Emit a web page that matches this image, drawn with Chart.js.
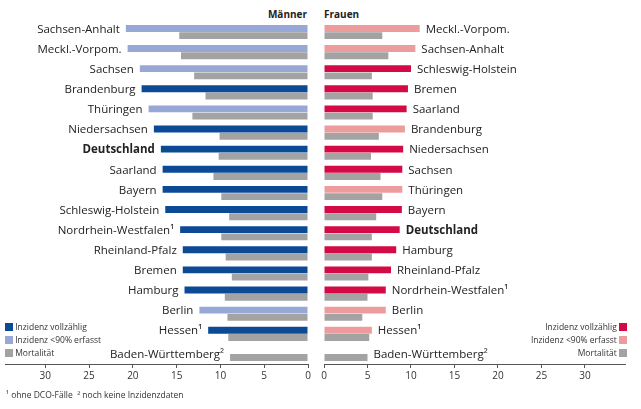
<!DOCTYPE html>
<html><head><meta charset="utf-8">
<script src="https://cdn.jsdelivr.net/npm/chart.js@4"></script>
<style>
body{margin:0;width:641px;height:409px;background:#fff;font-family:"Open Sans",sans-serif;position:relative;overflow:hidden}
.c{position:absolute}
.t{position:absolute;font-size:10px;font-weight:bold;color:#222;top:7px}
.leg{position:absolute;font-size:8.5px;color:#333;line-height:13px}
.leg span.sq{display:inline-block;width:8px;height:8px;vertical-align:-1px}
.fn{position:absolute;left:6px;top:389px;font-size:8.5px;color:#333}
</style></head><body>
<div class="t" style="right:334px">Männer</div>
<div class="t" style="left:324px">Frauen</div>
<div class="c" style="left:0;top:22px;width:314px;height:362px"><canvas id="m"></canvas></div>
<div class="c" style="left:317px;top:22px;width:314px;height:362px"><canvas id="f"></canvas></div>
<div class="leg" style="left:5px;top:320px">
<div><span class="sq" style="background:#0d4a96"></span> Inzidenz vollzählig</div>
<div><span class="sq" style="background:#98a8d6"></span> Inzidenz &lt;90% erfasst</div>
<div><span class="sq" style="background:#a3a3a3"></span> Mortalität</div></div>
<div class="leg" style="right:14px;top:320px;text-align:right">
<div>Inzidenz vollzählig <span class="sq" style="background:#d30a45"></span></div>
<div>Inzidenz &lt;90% erfasst <span class="sq" style="background:#ec9c9c"></span></div>
<div>Mortalität <span class="sq" style="background:#a3a3a3"></span></div></div>
<div class="fn">¹ ohne DCO-Fälle &nbsp;² noch keine Inzidenzdaten</div>
<script>
const menLabels=["Sachsen-Anhalt","Meckl.-Vorpom.","Sachsen","Brandenburg","Thüringen","Niedersachsen","Deutschland","Saarland","Bayern","Schleswig-Holstein","Nordrhein-Westfalen¹","Rheinland-Pfalz","Bremen","Hamburg","Berlin","Hessen¹","Baden-Württemberg²"];
const menIncidence=[20.8,20.6,19.2,19.0,18.2,17.6,16.8,16.6,16.6,16.3,14.6,14.3,14.3,14.1,12.4,11.4,null];
const menComplete=[false,false,false,true,false,true,true,true,true,true,true,true,true,true,false,true,true];
const menMortality=[14.7,14.5,13.0,11.7,13.2,10.1,10.2,10.8,9.9,9.0,9.9,9.4,8.7,9.5,9.2,9.1,8.9];
const womenLabels=["Meckl.-Vorpom.","Sachsen-Anhalt","Schleswig-Holstein","Bremen","Saarland","Brandenburg","Niedersachsen","Sachsen","Thüringen","Bayern","Deutschland","Hamburg","Rheinland-Pfalz","Nordrhein-Westfalen¹","Berlin","Hessen¹","Baden-Württemberg²"];
const womenIncidence=[11.0,10.5,10.0,9.65,9.5,9.3,9.1,9.0,9.0,8.95,8.7,8.3,7.7,7.1,7.1,5.5,null];
const womenComplete=[false,false,true,true,true,false,true,true,false,true,true,true,true,true,false,false,true];
const womenMortality=[6.7,7.4,5.5,5.6,5.6,6.3,5.4,6.5,6.7,6.0,5.5,5.5,5.1,5.0,4.4,5.2,5.0];
const tickValues=[0,5,10,15,20,25,30];

function make(id,labels,inc,comp,mort,dark,light,left){
  const labelPlugin={id:'lbl',afterDatasetsDraw(ch){
    const c=ch.ctx,m0=ch.getDatasetMeta(0).data,m1=ch.getDatasetMeta(1).data;
    labels.forEach((l,i)=>{
      const a=m0[i],b=m1[i];
      const hasInc=inc[i]!=null;
      let x=left?(hasInc?Math.min(a.x,b.x):b.x):(hasInc?Math.max(a.x,b.x):b.x);
      let y=hasInc?a.y+1:b.y-3;
      c.save();
      c.font=(l==="Deutschland"?"bold ":"")+"11.5px 'Open Sans'";
      c.fillStyle="#222";c.textBaseline="middle";
      c.textAlign=left?"right":"left";
      c.fillText(l,left?x-6:x+6,y);
      c.restore();
    });
  }};
  new Chart(document.getElementById(id),{type:'bar',
    data:{labels,datasets:[
      {data:inc,backgroundColor:comp.map(v=>v?dark:light)},
      {data:mort,backgroundColor:'#a3a3a3'}]},
    options:{indexAxis:'y',responsive:true,maintainAspectRatio:false,animation:false,
      layout:{padding:left?{left:5,right:6,top:0}:{left:7,right:6,top:0}},
      plugins:{legend:{display:false},tooltip:{enabled:false}},
      datasets:{bar:{categoryPercentage:0.72,barPercentage:0.95}},
      scales:{
        x:{reverse:left,min:0,max:34.6,afterBuildTicks(s){s.ticks=tickValues.map(v=>({value:v}));},
          grid:{display:true,drawOnChartArea:false,tickLength:4,color:'#555'},
          border:{display:true,color:'#555'},
          ticks:{font:{size:10,family:"'Open Sans'"},color:'#333',padding:2}},
        y:{display:false}}}
    ,plugins:[labelPlugin]});
}
make('m',menLabels,menIncidence,menComplete,menMortality,'#0d4a96','#98a8d6',true);
make('f',womenLabels,womenIncidence,womenComplete,womenMortality,'#d30a45','#ec9c9c',false);
</script></body></html>
